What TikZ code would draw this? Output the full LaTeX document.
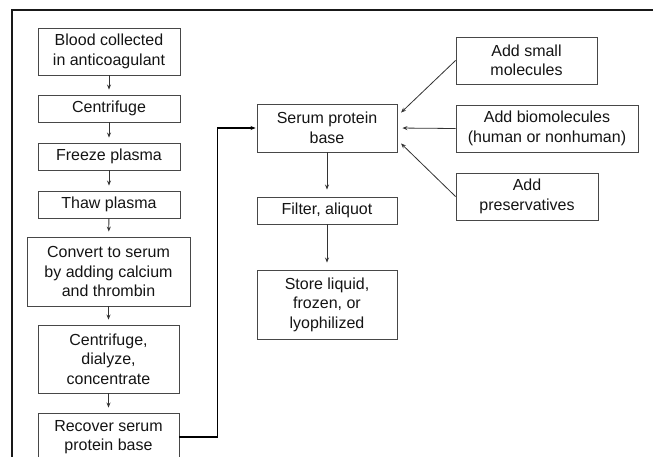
\documentclass[tikz,border=0pt]{standalone}
\usepackage{fontspec}
\setmainfont{Liberation Sans}
\usetikzlibrary{arrows.meta}
\begin{document}
\begin{tikzpicture}[x=1pt,y=-1pt,font=\fontsize{16}{19.5}\selectfont,
  stepbox/.style={draw=black!72,line width=0.9pt,align=center,inner sep=0pt,text=black!92},
  arr/.style={-{Stealth[length=5pt,width=4pt]},draw=black!80,line width=0.8pt,shorten >=5pt}]
\useasboundingbox (0,0) rectangle (654,456);
\draw[line width=2.8pt,black!90] (12,458) -- (12,10) -- (653,10);

% left column
\node[stepbox,minimum width=142pt,minimum height=47pt] (blood) at (109,51.5) {Blood collected\\in anticoagulant};
\node[stepbox,minimum width=142pt,minimum height=27pt] (spin) at (109,108.5) {Centrifuge};
\node[stepbox,minimum width=142pt,minimum height=27pt] (freeze) at (109,156.5) {Freeze plasma};
\node[stepbox,minimum width=142pt,minimum height=27pt] (thaw) at (109,204.5) {Thaw plasma};
\node[stepbox,minimum width=163pt,minimum height=69pt] (convert) at (108.5,271.5) {Convert to serum\\by adding calcium\\and thrombin};
\node[stepbox,minimum width=141pt,minimum height=68pt] (dialyze) at (108.5,359) {Centrifuge,\\dialyze,\\concentrate};
\node[stepbox,minimum width=141pt,minimum height=48pt] (recover) at (108.5,437) {Recover serum\\protein base};

% middle column
\node[stepbox,minimum width=140pt,minimum height=48pt] (serum) at (327,128) {Serum protein\\base};
\node[stepbox,minimum width=140pt,minimum height=27pt] (filter) at (327,210.5) {Filter, aliquot};
\node[stepbox,minimum width=140pt,minimum height=69pt] (store) at (327,304.5) {Store liquid,\\frozen, or\\lyophilized};

% additives
\node[stepbox,minimum width=141pt,minimum height=47pt] (small) at (526.5,60.5) {Add small\\molecules};
\node[stepbox,minimum width=182pt,minimum height=47pt] (bio) at (547,128.5) {Add biomolecules\\(human or nonhuman)};
\node[stepbox,minimum width=142pt,minimum height=47pt] (pres) at (527,196.5) {Add\\preservatives};

\draw[arr] (blood) -- (spin);
\draw[arr] (spin) -- (freeze);
\draw[arr] (freeze) -- (thaw);
\draw[arr] (thaw) -- (convert);
\draw[arr] (convert) -- (dialyze);
\draw[arr] (dialyze) -- (recover);
\draw[arr,line width=1.3pt,draw=black,shorten >=1pt] (recover.east) -- ++(38,0) |- (serum.west);
\draw[arr,shorten >=7pt] (serum) -- (filter);
\draw[arr,shorten >=7pt] (filter) -- (store);
\draw[arr] (small.west) -- ([yshift=12pt]serum.east);
\draw[arr] (bio.west) -- (serum.east);
\draw[arr] (pres.west) -- ([yshift=-12pt]serum.east);
\end{tikzpicture}
\end{document}
